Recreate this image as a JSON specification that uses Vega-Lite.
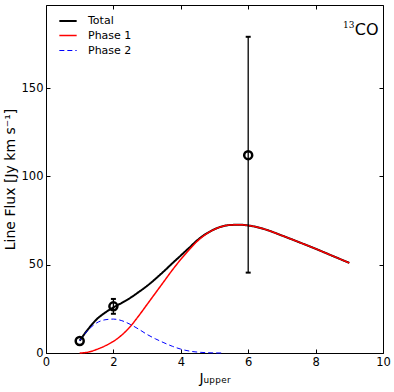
{
  "$schema": "https://vega.github.io/schema/vega-lite/v6.json",
  "width": 337,
  "height": 348,
  "autosize": {"type": "none"},
  "padding": {"left": 46, "top": 5, "right": 11, "bottom": 39},
  "config": {
    "font": "DejaVu Sans",
    "view": {"stroke": "black", "strokeWidth": 1},
    "axis": {
      "domain": false,
      "grid": false,
      "tickColor": "black",
      "tickSize": -4,
      "tickWidth": 1,
      "labelPadding": 7,
      "labelFont": "DejaVu Sans",
      "labelFontSize": 11.5,
      "labelColor": "black",
      "labelFlush": false,
      "labelOverlap": false,
      "titleFont": "DejaVu Sans",
      "titleFontWeight": "normal",
      "titleColor": "black"
    },
    "legend": {
      "orient": "none",
      "legendX": 12,
      "legendY": 6,
      "padding": 0,
      "symbolType": "stroke",
      "symbolSize": 300,
      "labelFont": "DejaVu Sans",
      "labelFontSize": 11,
      "labelColor": "black",
      "labelOffset": 10,
      "rowPadding": -1.5
    }
  },
  "resolve": {"axis": {"x": "independent", "y": "independent"}},
  "datasets": {
    "curves": [
      {"series": "Total", "J": 1, "F": 7},
      {"series": "Total", "J": 1.25, "F": 13.5},
      {"series": "Total", "J": 1.5, "F": 19},
      {"series": "Total", "J": 1.75, "F": 22.8},
      {"series": "Total", "J": 2, "F": 25.8},
      {"series": "Total", "J": 2.25, "F": 28.4},
      {"series": "Total", "J": 2.5, "F": 31.2},
      {"series": "Total", "J": 2.75, "F": 34.5},
      {"series": "Total", "J": 3, "F": 38},
      {"series": "Total", "J": 3.25, "F": 42},
      {"series": "Total", "J": 3.5, "F": 46.3},
      {"series": "Total", "J": 3.75, "F": 50.8},
      {"series": "Total", "J": 4, "F": 55.2},
      {"series": "Total", "J": 4.25, "F": 59.6},
      {"series": "Total", "J": 4.5, "F": 64},
      {"series": "Total", "J": 4.75, "F": 67.5},
      {"series": "Total", "J": 5, "F": 70.05},
      {"series": "Total", "J": 5.25, "F": 71.8},
      {"series": "Total", "J": 5.5, "F": 72.5},
      {"series": "Total", "J": 5.75, "F": 72.6},
      {"series": "Total", "J": 6, "F": 72.2},
      {"series": "Total", "J": 6.5, "F": 70},
      {"series": "Total", "J": 7, "F": 66.5},
      {"series": "Total", "J": 7.5, "F": 62.8},
      {"series": "Total", "J": 8, "F": 59},
      {"series": "Total", "J": 8.5, "F": 55},
      {"series": "Total", "J": 9, "F": 51},
      {"series": "Phase 1", "J": 1, "F": 0},
      {"series": "Phase 1", "J": 1.25, "F": 0.5},
      {"series": "Phase 1", "J": 1.5, "F": 2},
      {"series": "Phase 1", "J": 1.75, "F": 4},
      {"series": "Phase 1", "J": 2, "F": 6.6},
      {"series": "Phase 1", "J": 2.25, "F": 10.2},
      {"series": "Phase 1", "J": 2.5, "F": 15},
      {"series": "Phase 1", "J": 2.75, "F": 21},
      {"series": "Phase 1", "J": 3, "F": 27.5},
      {"series": "Phase 1", "J": 3.25, "F": 34},
      {"series": "Phase 1", "J": 3.5, "F": 40.5},
      {"series": "Phase 1", "J": 3.75, "F": 47},
      {"series": "Phase 1", "J": 4, "F": 53},
      {"series": "Phase 1", "J": 4.25, "F": 58.5},
      {"series": "Phase 1", "J": 4.5, "F": 63.5},
      {"series": "Phase 1", "J": 4.75, "F": 67.3},
      {"series": "Phase 1", "J": 5, "F": 70},
      {"series": "Phase 1", "J": 5.25, "F": 71.8},
      {"series": "Phase 1", "J": 5.5, "F": 72.5},
      {"series": "Phase 1", "J": 5.75, "F": 72.6},
      {"series": "Phase 1", "J": 6, "F": 72.2},
      {"series": "Phase 1", "J": 6.5, "F": 70},
      {"series": "Phase 1", "J": 7, "F": 66.5},
      {"series": "Phase 1", "J": 7.5, "F": 62.8},
      {"series": "Phase 1", "J": 8, "F": 59},
      {"series": "Phase 1", "J": 8.5, "F": 55},
      {"series": "Phase 1", "J": 9, "F": 51},
      {"series": "Phase 2", "J": 1, "F": 7},
      {"series": "Phase 2", "J": 1.25, "F": 13},
      {"series": "Phase 2", "J": 1.5, "F": 17},
      {"series": "Phase 2", "J": 1.75, "F": 18.8},
      {"series": "Phase 2", "J": 2, "F": 19.2},
      {"series": "Phase 2", "J": 2.25, "F": 18.3},
      {"series": "Phase 2", "J": 2.5, "F": 16.2},
      {"series": "Phase 2", "J": 2.75, "F": 13.5},
      {"series": "Phase 2", "J": 3, "F": 10.5},
      {"series": "Phase 2", "J": 3.25, "F": 8},
      {"series": "Phase 2", "J": 3.5, "F": 5.8},
      {"series": "Phase 2", "J": 3.75, "F": 3.8},
      {"series": "Phase 2", "J": 4, "F": 2.2},
      {"series": "Phase 2", "J": 4.25, "F": 1.1},
      {"series": "Phase 2", "J": 4.5, "F": 0.5},
      {"series": "Phase 2", "J": 4.75, "F": 0.2},
      {"series": "Phase 2", "J": 5, "F": 0.05},
      {"series": "Phase 2", "J": 5.2, "F": 0}
    ],
    "obs": [
      {"J": 1, "F": 6.8, "lo": null, "hi": null},
      {"J": 2, "F": 26.4, "lo": 22.2, "hi": 30.6},
      {"J": 6, "F": 112, "lo": 45.5, "hi": 179}
    ],
    "molecule": [
      {"J": 9.87, "F": 182.8, "text": "CO"}
    ],
    "isotope": [
      {"J": 9.15, "F": 185.5, "text": "13"}
    ]
  },
  "layer": [
    {
      "data": {"name": "curves"},
      "transform": [{"filter": "datum.series === 'Total'"}],
      "mark": {"type": "line", "interpolate": "monotone"},
      "encoding": {
        "x": {"field": "J", "type": "quantitative", "scale": {"domain": [0, 10], "nice": false},
              "axis": {"orient": "bottom", "values": [0, 2, 4, 6, 8, 10], "title": "Jᵤₚₚₑᵣ", "titleFontSize": 14, "titlePadding": 4}},
        "y": {"field": "F", "type": "quantitative", "scale": {"domain": [0, 197], "nice": false},
              "axis": {"orient": "left", "values": [0, 50, 100, 150], "title": "Line Flux [Jy km s⁻¹]", "titleFontSize": 14, "titlePadding": 4}},
        "color": {"field": "series", "type": "nominal", "title": null,
                  "scale": {"domain": ["Total", "Phase 1", "Phase 2"], "range": ["#000000", "#ff0000", "#0000ff"]}},
        "strokeDash": {"field": "series", "type": "nominal", "title": null,
                  "scale": {"domain": ["Total", "Phase 1", "Phase 2"], "range": [[1, 0], [1, 0], [5, 3]]}},
        "strokeWidth": {"field": "series", "type": "nominal", "title": null,
                  "scale": {"domain": ["Total", "Phase 1", "Phase 2"], "range": [2, 1, 1]}}
      }
    },
    {
      "data": {"name": "curves"},
      "transform": [{"filter": "datum.series === 'Phase 1'"}],
      "mark": {"type": "line", "interpolate": "monotone"},
      "encoding": {
        "x": {"field": "J", "type": "quantitative", "axis": null},
        "y": {"field": "F", "type": "quantitative", "axis": null},
        "color": {"field": "series", "type": "nominal", "title": null},
        "strokeDash": {"field": "series", "type": "nominal", "title": null},
        "strokeWidth": {"field": "series", "type": "nominal", "title": null}
      }
    },
    {
      "data": {"name": "curves"},
      "transform": [{"filter": "datum.series === 'Phase 2'"}],
      "mark": {"type": "line", "interpolate": "monotone"},
      "encoding": {
        "x": {"field": "J", "type": "quantitative", "axis": null},
        "y": {"field": "F", "type": "quantitative", "axis": null},
        "color": {"field": "series", "type": "nominal", "title": null},
        "strokeDash": {"field": "series", "type": "nominal", "title": null},
        "strokeWidth": {"field": "series", "type": "nominal", "title": null}
      }
    },
    {
      "data": {"name": "obs"},
      "transform": [{"filter": "datum.lo != null"}],
      "mark": {"type": "rule", "color": "black", "strokeWidth": 1.3},
      "encoding": {
        "x": {"field": "J", "type": "quantitative", "axis": null},
        "y": {"field": "lo", "type": "quantitative", "axis": null},
        "y2": {"field": "hi"}
      }
    },
    {
      "data": {"name": "obs"},
      "transform": [{"filter": "datum.lo != null"}],
      "mark": {"type": "tick", "orient": "horizontal", "color": "black", "size": 5, "thickness": 2, "opacity": 1},
      "encoding": {
        "x": {"field": "J", "type": "quantitative", "axis": null},
        "y": {"field": "lo", "type": "quantitative", "axis": null}
      }
    },
    {
      "data": {"name": "obs"},
      "transform": [{"filter": "datum.hi != null"}],
      "mark": {"type": "tick", "orient": "horizontal", "color": "black", "size": 5, "thickness": 2, "opacity": 1},
      "encoding": {
        "x": {"field": "J", "type": "quantitative", "axis": null},
        "y": {"field": "hi", "type": "quantitative", "axis": null}
      }
    },
    {
      "data": {"name": "obs"},
      "mark": {"type": "point", "filled": false, "stroke": "black", "strokeWidth": 2.5, "size": 64, "opacity": 1},
      "encoding": {
        "x": {"field": "J", "type": "quantitative", "axis": null},
        "y": {"field": "F", "type": "quantitative", "axis": null}
      }
    },
    {
      "data": {"name": "isotope"},
      "mark": {"type": "text", "align": "right", "baseline": "middle", "fontSize": 9, "font": "DejaVu Serif", "color": "black"},
      "encoding": {
        "x": {"field": "J", "type": "quantitative", "axis": null},
        "y": {"field": "F", "type": "quantitative", "axis": null},
        "text": {"field": "text"}
      }
    },
    {
      "data": {"name": "molecule"},
      "mark": {"type": "text", "align": "right", "baseline": "middle", "fontSize": 16, "font": "DejaVu Sans", "color": "black"},
      "encoding": {
        "x": {"field": "J", "type": "quantitative",
              "axis": {"orient": "top", "values": [0, 2, 4, 6, 8, 10], "labels": false, "title": null}},
        "y": {"field": "F", "type": "quantitative",
              "axis": {"orient": "right", "values": [0, 50, 100, 150], "labels": false, "title": null}},
        "text": {"field": "text"}
      }
    }
  ]
}
